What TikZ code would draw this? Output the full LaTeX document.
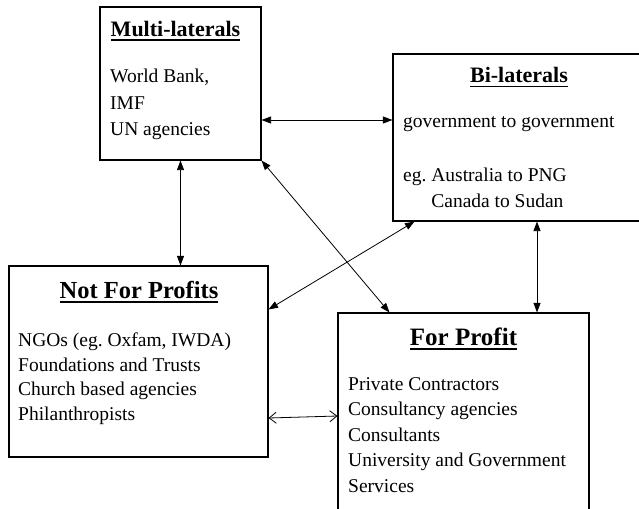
\documentclass[tikz,border=0pt]{standalone}
\usepackage{fontspec}
\setmainfont{Liberation Serif}
\usetikzlibrary{arrows.meta}

% bold heading with a heavy rule under it
\newcommand{\headline}[1]{\sbox0{#1}\rlap{\rule[-4.5pt]{\wd0}{1.6pt}}\usebox0}

\begin{document}
\begin{tikzpicture}[x=1pt,y=-1pt,
  box/.style={draw,line width=1.1pt,inner sep=0pt},
  title/.style={font=\bfseries\fontsize{22}{26}\selectfont,inner sep=0pt,anchor=base},
  body/.style={font=\fontsize{19.5}{25.5}\selectfont,align=left,inner sep=0pt,anchor=base west},
  link/.style={line width=0.8pt,{Triangle[length=9.5pt,width=7pt]}-{Triangle[length=9.5pt,width=7pt]}},
  loose/.style={line width=0.8pt,{Straight Barb[length=7pt,width=11pt]}-{Straight Barb[length=7pt,width=11pt]}}]
\useasboundingbox (0,0) rectangle (639,508);
\clip (0,0) rectangle (639,508);

% Boxes
\node[box,minimum width=161pt,minimum height=153pt] (multi) at (180.5,83.5) {};
\node[box,minimum width=252pt,minimum height=167pt] (bi) at (519,137.5) {};
\node[box,minimum width=259pt,minimum height=191pt] (nfp) at (138.5,361.5) {};
\node[box,minimum width=251pt,minimum height=217pt] (fp) at (463.5,421.5) {};

% Headings
\node[title] (multititle) at (175.5,36.5) {\headline{Multi-laterals}};
\node[title] (bititle) at (519,83) {\headline{Bi-laterals}};
\node[title,font=\bfseries\fontsize{24.5}{28}\selectfont] (nfptitle) at (139,298) {\headline{Not For Profits}};
\node[title,font=\bfseries\fontsize{25}{28}\selectfont] (fptitle) at (463.5,345) {\headline{For Profit}};

% Members (placed by the baseline of the last line)
\node[body,font=\fontsize{19.5}{26.3}\selectfont] (multitext) at (110,135.5) {World Bank,\\IMF\\UN agencies};
\node[body] (bitext) at (403,207) {government to government\\[28.5pt]
  eg.\ Australia to PNG\\\phantom{eg.\ }Canada to Sudan};
\node[body,font=\fontsize{19.5}{24.5}\selectfont] (nfptext) at (18,420) {NGOs (eg.\ Oxfam, IWDA)\\Foundations and Trusts\\
  Church based agencies\\Philanthropists};
\node[body] (fptext) at (348,492) {Private Contractors\\Consultancy agencies\\Consultants\\
  University and Government\\Services};

% Flows between the groups
\draw[link] (multi.east |- 0,120) -- (bi.west |- 0,120);
\draw[link] (multi.south) -- (multi.south |- nfp.north);
\draw[link] (multi.south east) -- ([xshift=52pt]fp.north west);
\draw[link] ([xshift=22pt]bi.south west) -- ([yshift=-44pt]nfp.north east);
\draw[link] (bi.south -| 537,0) -- (fp.north -| 537,0);
\draw[loose] (nfp.east |- 0,418) -- (fp.west |- 0,416);
\end{tikzpicture}
\end{document}
